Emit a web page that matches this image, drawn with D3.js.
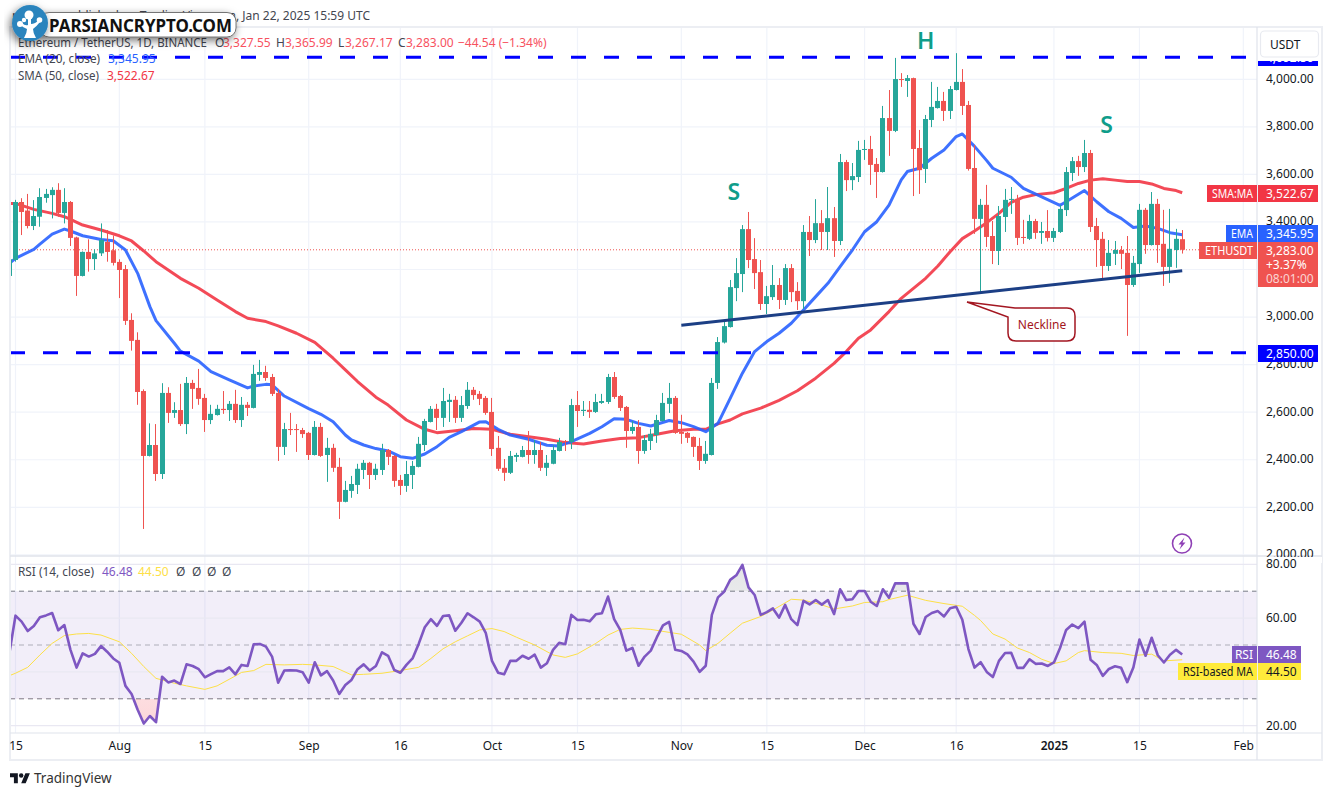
<!DOCTYPE html>
<html>
<head>
<meta charset="utf-8">
<script src="https://cdn.jsdelivr.net/npm/d3@7"></script>
<style>
  html, body { margin: 0; padding: 0; background: #fff; }
  svg { display: block; }
  text { font-family: "Noto Sans", sans-serif; font-size: 12px; fill: #131722; }
  .domain { display: none; }
</style>
</head>
<body>
<svg id="chart" width="1333" height="796"></svg>
<script>
// daily candles, first one is Jul 14 2024 (only a sliver of it shows)
const firstDay = "2024-07-14";
const opens = [3173,
  3240,3484,3448,3383,3422,3501,3513,3535,3438,3484,
  3335,3173,3274,3244,3268,3316,3281,3232,3202,2988,
  2904,2689,2416,2462,2340,2681,2597,2609,2550,2723,
  2702,2660,2567,2588,2614,2609,2635,2567,2631,2618,
  2757,2769,2748,2681,2454,2529,2529,2525,2513,2420,
  2538,2420,2450,2370,2223,2269,2294,2357,2387,2336,
  2357,2441,2416,2315,2290,2336,2370,2462,2559,2614,
  2576,2643,2652,2576,2626,2694,2677,2660,2601,2450,
  2366,2345,2412,2412,2441,2420,2441,2366,2383,2437,
  2479,2475,2630,2605,2610,2601,2639,2643,2748,2668,
  2622,2521,2538,2437,2479,2504,2563,2635,2660,2517,
  2513,2496,2458,2395,2420,2723,2893,2958,3122,3181,
  3370,3244,3189,3055,3084,3135,3072,3206,3110,3067,
  3358,3324,3395,3358,3416,3320,3652,3576,3589,3703,
  3707,3644,3610,3837,3783,4001,3993,4005,3711,3623,
  3829,3879,3909,3867,3955,3989,3892,3627,3413,3472,
  3341,3278,3421,3493,3497,3337,3329,3404,3354,3362,
  3333,3358,3450,3606,3656,3631,3690,3383,3329,3215,
  3266,3282,3270,3135,3223,3451,3303,3476,3308,3211,
  3282,3327.55];
const highs = [3243,
  3493,3500,3518,3492,3542,3539,3546,3563,3542,3488,
  3338,3276,3327,3285,3394,3366,3343,3243,3219,3016,
  2936,2696,2553,2550,2722,2705,2642,2719,2748,2736,
  2782,2677,2631,2631,2689,2647,2694,2664,2643,2799,
  2820,2795,2761,2698,2555,2597,2550,2534,2517,2563,
  2555,2492,2467,2408,2311,2332,2383,2399,2391,2383,
  2467,2445,2420,2336,2395,2395,2496,2572,2626,2635,
  2702,2677,2668,2668,2727,2706,2689,2668,2660,2500,
  2403,2437,2429,2458,2521,2483,2475,2420,2462,2492,
  2483,2656,2689,2647,2647,2677,2677,2761,2769,2672,
  2626,2563,2567,2504,2530,2589,2681,2723,2668,2589,
  2517,2498,2492,2479,2744,2916,2983,3156,3248,3387,
  3442,3332,3240,3131,3219,3164,3223,3223,3147,3387,
  3425,3496,3450,3547,3463,3686,3661,3648,3741,3745,
  3762,3669,3888,3955,4090,4026,4018,4007,3787,3850,
  3989,3968,3947,3972,4110,4043,3909,3724,3497,3556,
  3404,3467,3539,3547,3514,3409,3430,3413,3400,3450,
  3375,3472,3631,3673,3678,3745,3703,3417,3358,3324,
  3320,3299,3341,3257,3476,3459,3526,3497,3451,3455,
  3371,3365.99];
const lows = [3173,
  3233,3345,3373,3366,3380,3481,3415,3422,3394,3299,
  3089,3171,3191,3198,3257,3233,3217,3080,2967,2859,
  2631,2109,2414,2311,2319,2555,2576,2542,2508,2614,
  2631,2517,2550,2586,2593,2563,2555,2538,2584,2616,
  2732,2732,2668,2395,2420,2504,2433,2492,2399,2418,
  2412,2307,2349,2151,2221,2240,2256,2319,2277,2315,
  2336,2378,2286,2252,2265,2277,2368,2437,2557,2525,
  2538,2559,2555,2559,2614,2652,2630,2589,2416,2353,
  2311,2340,2391,2410,2383,2383,2353,2332,2381,2435,
  2437,2445,2538,2584,2576,2597,2635,2635,2656,2605,
  2450,2509,2383,2425,2441,2471,2561,2597,2509,2467,
  2471,2412,2357,2383,2418,2698,2889,2956,3067,3105,
  3206,3118,3030,3013,3072,3034,3051,3063,3030,3034,
  3257,3311,3282,3282,3253,3303,3530,3534,3568,3661,
  3556,3501,3608,3678,3778,3968,3926,3509,3518,3564,
  3799,3877,3825,3833,3953,3850,3616,3350,3102,3295,
  3223,3219,3358,3434,3303,3308,3324,3329,3308,3318,
  3316,3354,3425,3572,3594,3610,3358,3211,3160,3194,
  3219,3202,2921,3127,3186,3266,3301,3228,3131,3144,
  3207,3267.17];
const closes = [3243,
  3484,3442,3383,3425,3505,3518,3535,3438,3484,3333,
  3173,3274,3244,3268,3324,3274,3228,3198,2984,2900,
  2685,2416,2462,2340,2681,2597,2609,2550,2723,2698,
  2656,2567,2593,2614,2609,2635,2567,2631,2618,2761,
  2769,2744,2677,2454,2529,2525,2525,2508,2420,2538,
  2416,2450,2366,2223,2273,2298,2362,2387,2336,2362,
  2441,2412,2311,2290,2340,2374,2467,2563,2614,2576,
  2647,2652,2576,2630,2694,2672,2656,2597,2445,2362,
  2345,2416,2420,2441,2420,2441,2366,2387,2441,2475,
  2475,2630,2605,2610,2601,2643,2647,2748,2664,2618,
  2521,2538,2437,2483,2509,2567,2639,2660,2513,2509,
  2492,2454,2395,2425,2723,2895,2962,3126,3185,3370,
  3240,3185,3055,3088,3135,3072,3206,3105,3067,3358,
  3324,3395,3358,3416,3320,3652,3576,3593,3703,3707,
  3640,3610,3837,3783,4001,3997,4005,3707,3618,3833,
  3884,3909,3867,3959,3989,3888,3623,3413,3472,3337,
  3278,3425,3493,3497,3333,3333,3404,3354,3362,3333,
  3362,3455,3610,3656,3631,3690,3379,3324,3215,3270,
  3282,3266,3135,3228,3451,3303,3476,3303,3211,3287,
  3329,3283];

// moving averages read every few candles: index counts from Jul 15
const emaIndex = [-1,0,3,4,6,8,9,11,14,16,18,20,22,23,26,27,30,32,35,38,39,41,42,44,48,50,52,54,55,57,59,61,63,65,67,69,71,73,76,77,79,81,84,87,89,91,94,96,98,100,102,104,107,109,111,113,115,117,119,121,123,125,127,129,131,133,135,137,139,141,143,145,146,148,150,152,154,155,157,159,160,163,165,168,171,172,175,177,179,181,183,185,187,189,191];
const emaValues = [3226,3247,3285,3307,3349,3370,3362,3342,3326,3321,3282,3184,3044,2985,2890,2857,2815,2771,2736,2702,2710,2717,2715,2668,2615,2591,2560,2504,2483,2462,2447,2437,2413,2406,2424,2455,2494,2518,2559,2560,2528,2504,2486,2461,2458,2476,2511,2539,2572,2570,2553,2542,2565,2556,2539,2518,2553,2658,2764,2855,2897,2932,2974,3030,3086,3142,3212,3282,3359,3401,3471,3577,3612,3626,3668,3703,3759,3770,3718,3658,3626,3588,3541,3506,3470,3485,3532,3485,3443,3415,3377,3383,3373,3355,3346];
const smaIndex = [-1,0,3,6,8,9,11,14,17,19,21,23,27,30,33,36,38,41,43,46,49,52,54,56,59,61,64,67,69,72,75,78,81,84,87,90,93,96,99,102,105,108,111,113,115,117,119,122,125,128,131,134,136,138,140,143,145,147,149,151,153,155,157,159,161,163,165,167,170,172,174,176,178,180,182,184,186,188,190,191];
const smaValues = [3478,3478,3453,3436,3422,3411,3387,3366,3342,3320,3278,3233,3163,3121,3072,3023,2995,2981,2963,2932,2894,2827,2778,2729,2663,2630,2567,2528,2514,2522,2531,2528,2507,2497,2486,2472,2466,2479,2489,2493,2507,2522,2528,2528,2551,2567,2593,2617,2650,2690,2743,2805,2855,2911,2946,3023,3079,3121,3163,3215,3275,3330,3362,3397,3436,3482,3504,3515,3523,3541,3562,3576,3582,3576,3570,3570,3560,3541,3532,3523];
const neckIndex = [109, 191];
const neckValues = [2966, 3195];
const levelValues = [4092.5, 2850];
const patternLetters = ["H", "S", "S"];
const patternIndex = [149, 117.6, 178.6];
const patternValues = [4165, 3530, 3812];

// RSI for every candle, same order as the candles
const rsiValues = [47.0,
  60.9,58.7,55.2,57.1,60.3,61.0,61.9,55.5,57.4,48.2,
  41.6,46.9,45.7,46.7,49.6,47.5,45.0,43.4,34.8,31.8,
  25.9,20.8,23.6,21.3,38.2,36.1,36.8,35.5,42.8,42.2,
  41.0,38.0,39.2,40.3,40.3,41.7,39.1,42.6,42.2,50.3,
  50.4,49.4,45.7,36.0,40.5,40.6,40.5,39.9,36.0,43.6,
  38.7,40.3,36.8,31.8,35.1,37.0,41.0,42.8,40.5,42.2,
  47.3,46.0,40.7,39.7,42.6,45.0,50.4,56.6,59.6,57.1,
  60.8,61.0,55.3,58.3,61.8,60.3,58.7,54.4,44.1,39.7,
  39.1,44.1,44.1,46.0,44.9,46.4,41.6,43.2,48.2,50.8,
  50.3,61.2,59.3,59.4,58.8,61.4,61.8,68.0,59.6,55.6,
  47.9,48.9,42.3,45.7,47.9,52.9,57.3,58.6,48.2,47.8,
  46.5,43.8,40.0,42.3,61.2,67.7,69.8,74.2,75.9,79.8,
  71.4,68.6,61.2,62.2,63.6,60.2,64.9,59.6,57.4,66.4,
  65.1,66.7,65.0,66.7,61.5,70.7,66.7,67.0,70.1,70.1,
  66.1,64.5,70.7,67.6,72.9,72.9,72.9,57.9,54.1,60.4,
  61.9,62.6,60.6,63.7,64.2,59.4,48.5,41.6,43.6,40.0,
  38.1,44.1,47.0,47.1,41.5,41.5,44.7,43.0,43.1,42.2,
  43.5,48.9,55.6,57.6,56.3,58.7,44.5,42.6,38.5,41.1,
  42.1,41.5,36.2,41.6,52.0,46.0,52.7,46.2,43.5,46.4,
  48.2,46.48];
const rsiMaIndex = [-1,0,2,4,6,8,10,12,14,17,19,21,23,26,28,31,33,36,37,39,41,44,47,49,52,55,57,60,63,66,68,70,72,74,76,78,80,82,85,88,90,92,95,97,99,101,104,107,109,112,113,115,117,119,122,124,127,129,132,134,137,139,142,143,146,149,152,155,157,158,160,162,164,166,168,170,172,174,175,178,181,183,186,188,191];
const rsiMaValues = [38.6,39.5,41.7,46.3,50.6,53.5,54.1,54.3,53.7,51.2,46.9,42.0,37.6,35.8,34.8,33.5,34.8,38.5,39.8,40.5,42.8,42.6,42.8,42.6,42.0,38.9,39.1,39.5,40.5,41.7,45.0,48.6,51.2,53.4,55.6,56.1,55.0,52.9,50.0,46.3,45.4,46.7,50.6,53.7,55.8,56.3,55.8,54.7,54.0,50.0,47.9,50.6,54.4,58.1,60.6,63.0,67.0,66.7,64.9,63.4,64.5,65.8,66.1,66.9,68.5,66.6,65.4,64.4,61.0,59.1,54.1,52.2,48.9,47.2,44.7,43.1,44.1,47.2,47.9,47.2,46.9,46.1,46.6,44.1,44.5];

const priceTicks = [4000,3800,3600,3400,3200,3000,2800,2600,2400,2200,2000];
const rsiTicks = [80,60,40,20];
const rsiLevels = [70,50,30];
const tickDates = ["2024-07-15","2024-08-01","2024-08-15","2024-09-01","2024-09-16","2024-10-01","2024-10-15","2024-11-01","2024-11-15","2024-12-01","2024-12-16","2025-01-01","2025-01-15","2025-02-01"];
const tickLabels = ["15","Aug","15","Sep","16","Oct","15","Nov","15","Dec","16","2025","15","Feb"];

const upColor = "#26a69a", downColor = "#ef5350";
const gridColor = "#f0f3fa", borderColor = "#e0e3eb";
const blue = "#2962ff", red = "#f23645", purple = "#7e57c2", levelBlue = "#0000ff";
const paneLeft = 10, paneRight = 1257, priceTop = 27, priceBottom = 556, rsiBottom = 733;

const day0 = new Date(firstDay + "T00:00:00Z");
// i counts from Jul 15, may be fractional for the letters
const dateAt = i => new Date(+day0 + (i + 1) * 864e5);

let x = d3.scaleUtc()
    .domain([new Date("2024-07-15T00:00:00Z"), new Date("2025-02-01T00:00:00Z")])
    .range([15.5, 1243.3]);
let y = d3.scaleLinear().domain([4000, 2200]).range([79.3, 507.3]);
let yRsi = d3.scaleLinear().domain([80, 20]).range([564.3, 725.7]);

let svg = d3.select("#chart");
let defs = svg.append("defs");
defs.append("clipPath").attr("id", "clip-price").append("rect")
    .attr("x", paneLeft).attr("y", priceTop).attr("width", paneRight - paneLeft).attr("height", priceBottom - priceTop);
defs.append("clipPath").attr("id", "clip-rsi").append("rect")
    .attr("x", paneLeft).attr("y", priceBottom).attr("width", paneRight - paneLeft).attr("height", rsiBottom - priceBottom);
defs.append("clipPath").attr("id", "clip-below30").append("rect")
    .attr("x", paneLeft).attr("y", yRsi(30)).attr("width", paneRight - paneLeft).attr("height", rsiBottom - yRsi(30));
defs.append("clipPath").attr("id", "clip-above70").append("rect")
    .attr("x", paneLeft).attr("y", priceBottom).attr("width", paneRight - paneLeft).attr("height", yRsi(70) - priceBottom);
let shadow = defs.append("filter").attr("id", "logo-shadow")
    .attr("x", "-20%").attr("y", "-50%").attr("width", "140%").attr("height", "220%");
shadow.append("feDropShadow").attr("dx", -2).attr("dy", 3).attr("stdDeviation", 4)
    .attr("flood-color", "#000").attr("flood-opacity", 0.55);
let oversold = defs.append("linearGradient").attr("id", "grad-oversold").attr("x1", 0).attr("y1", 0).attr("x2", 0).attr("y2", 1);
oversold.append("stop").attr("offset", "0%").attr("stop-color", "#f23645").attr("stop-opacity", 0);
oversold.append("stop").attr("offset", "100%").attr("stop-color", "#f23645").attr("stop-opacity", 0.2);
let overbought = defs.append("linearGradient").attr("id", "grad-overbought").attr("x1", 0).attr("y1", 1).attr("x2", 0).attr("y2", 0);
overbought.append("stop").attr("offset", "0%").attr("stop-color", "#787b86").attr("stop-opacity", 0);
overbought.append("stop").attr("offset", "100%").attr("stop-color", "#787b86").attr("stop-opacity", 0.2);

// GRID
let tickDateObjs = tickDates.map(d => new Date(d + "T00:00:00Z"));
svg.append("g").selectAll("line").data(tickDateObjs).join("line")
    .attr("x1", d => x(d)).attr("x2", d => x(d))
    .attr("y1", priceTop).attr("y2", rsiBottom)
    .attr("stroke", gridColor).attr("stroke-width", 1.2);
svg.append("g").selectAll("line").data(priceTicks).join("line")
    .attr("x1", paneLeft).attr("x2", paneRight)
    .attr("y1", d => y(d)).attr("y2", d => y(d))
    .attr("stroke", gridColor).attr("stroke-width", 1.2);

// RSI band goes under the rsi grid
svg.append("rect")
    .attr("x", paneLeft).attr("width", paneRight - paneLeft)
    .attr("y", yRsi(70)).attr("height", yRsi(30) - yRsi(70))
    .attr("fill", purple).attr("fill-opacity", 0.1);
svg.append("g").selectAll("line").data(rsiTicks).join("line")
    .attr("x1", paneLeft).attr("x2", paneRight)
    .attr("y1", d => yRsi(d)).attr("y2", d => yRsi(d))
    .attr("stroke", "#e9e8f2").attr("stroke-width", 1.2);
svg.append("g").selectAll("line").data(rsiLevels).join("line")
    .attr("x1", paneLeft).attr("x2", paneRight)
    .attr("y1", d => yRsi(d)).attr("y2", d => yRsi(d))
    .attr("stroke", "#787b86")
    .attr("stroke-opacity", d => d == 50 ? 0.55 : 1)
    .attr("stroke-width", 1)
    .attr("stroke-dasharray", "5,4");

// PRICE PANE
let pricePane = svg.append("g").attr("clip-path", "url(#clip-price)");

// last price dotted line
pricePane.append("line")
    .attr("x1", paneLeft).attr("x2", paneRight)
    .attr("y1", y(closes[closes.length - 1])).attr("y2", y(closes[closes.length - 1]))
    .attr("stroke", downColor).attr("stroke-width", 1).attr("stroke-dasharray", "1,2");

// moving averages
let maLine = d3.line().x(d => x(dateAt(d[0]))).y(d => y(d[1]));
pricePane.append("path")
    .datum(d3.zip(smaIndex, smaValues))
    .attr("fill", "none").attr("stroke", red).attr("stroke-width", 3).attr("stroke-opacity", 0.9)
    .attr("stroke-linejoin", "round")
    .attr("d", maLine);
pricePane.append("path")
    .datum(d3.zip(emaIndex, emaValues))
    .attr("fill", "none").attr("stroke", blue).attr("stroke-width", 3).attr("stroke-opacity", 0.9)
    .attr("stroke-linejoin", "round")
    .attr("d", maLine);

// candles
const candleIdx = d3.range(opens.length);
const candleX = i => Math.round(x(dateAt(i - 1)) - 0.5);
const candleColor = i => closes[i] >= opens[i] ? upColor : downColor;
pricePane.append("g").selectAll("rect").data(candleIdx).join("rect")
    .attr("x", i => candleX(i))
    .attr("width", 1)
    .attr("y", i => y(highs[i]))
    .attr("height", i => y(lows[i]) - y(highs[i]))
    .attr("fill", candleColor);
pricePane.append("g").selectAll("rect").data(candleIdx).join("rect")
    .attr("x", i => candleX(i) - 2)
    .attr("width", 5)
    .attr("y", i => y(Math.max(opens[i], closes[i])))
    .attr("height", i => Math.max(1, Math.abs(y(opens[i]) - y(closes[i]))))
    .attr("fill", candleColor);

// dashed levels
pricePane.append("g").selectAll("line").data(levelValues).join("line")
    .attr("x1", paneLeft).attr("x2", 1246)
    .attr("y1", d => y(d)).attr("y2", d => y(d))
    .attr("stroke", levelBlue).attr("stroke-width", 3).attr("stroke-dasharray", "15,18");

// neckline
pricePane.append("path")
    .datum(d3.zip(neckIndex, neckValues))
    .attr("fill", "none").attr("stroke", "#1c3f85").attr("stroke-width", 3)
    .attr("d", maLine);

// pattern letters
svg.append("g").selectAll("text").data(patternLetters).join("text")
    .attr("x", (d, i) => x(dateAt(patternIndex[i])))
    .attr("y", (d, i) => y(patternValues[i]))
    .attr("text-anchor", "middle")
    .attr("dominant-baseline", "central")
    .style("font-size", "23px").style("font-weight", 600)
    .style("fill", "#0f9d8a")
    .text(d => d);

// neckline callout
svg.append("path")
    .attr("d", "M1015,308 L967,302 L1008,317 L1008,333 Q1008,341 1016,341 L1067,341 Q1075,341 1075,333 L1075,316 Q1075,308 1067,308 Z")
    .attr("fill", "#fff").attr("stroke", "#a31621").attr("stroke-width", 1.5);
svg.append("text").attr("x", 1042).attr("y", 324)
    .attr("text-anchor", "middle").attr("dominant-baseline", "central")
    .style("fill", "#a31621").style("font-size", "12px").text("Neckline");

// lightning icon
let bolt = svg.append("g").attr("transform", "translate(1182,543.5)");
bolt.append("circle").attr("r", 9.5).attr("fill", "#fff").attr("stroke", "#8e3fb5").attr("stroke-width", 1.6);
bolt.append("path").attr("d", "M2.5,-6 L-3.5,1 L-0.5,1 L-2.5,6 L3.5,-1 L0.5,-1 Z").attr("fill", "#8e3fb5");

// RSI PANE
let rsiPane = svg.append("g").attr("clip-path", "url(#clip-rsi)");
let rsiPoints = rsiValues.map((v, i) => [i - 1, v]);
rsiPane.append("path").datum(rsiPoints)
    .attr("clip-path", "url(#clip-below30)")
    .attr("fill", "url(#grad-oversold)")
    .attr("d", d3.area().x(d => x(dateAt(d[0]))).y0(yRsi(30)).y1(d => yRsi(d[1])));
rsiPane.append("path").datum(rsiPoints)
    .attr("clip-path", "url(#clip-above70)")
    .attr("fill", "url(#grad-overbought)")
    .attr("d", d3.area().x(d => x(dateAt(d[0]))).y0(yRsi(70)).y1(d => yRsi(d[1])));
let rsiLine = d3.line().x(d => x(dateAt(d[0]))).y(d => yRsi(d[1]));
rsiPane.append("path").datum(d3.zip(rsiMaIndex, rsiMaValues))
    .attr("fill", "none").attr("stroke", "#fde047").attr("stroke-width", 1).attr("d", rsiLine);
rsiPane.append("path").datum(rsiPoints)
    .attr("fill", "none").attr("stroke", purple).attr("stroke-width", 2.6)
    .attr("stroke-linejoin", "round").attr("d", rsiLine);

// FRAME
svg.append("rect").attr("x", 10).attr("y", 27).attr("width", 1312).attr("height", 733)
    .attr("fill", "none").attr("stroke", "#eceef3").attr("stroke-width", 2);
svg.append("line").attr("x1", paneRight).attr("x2", paneRight).attr("y1", 27).attr("y2", 760)
    .attr("stroke", borderColor).attr("stroke-width", 1.2);
svg.append("line").attr("x1", 10).attr("x2", 1322).attr("y1", priceBottom).attr("y2", priceBottom)
    .attr("stroke", borderColor).attr("stroke-width", 1.5);
svg.append("line").attr("x1", 10).attr("x2", 1322).attr("y1", rsiBottom).attr("y2", rsiBottom)
    .attr("stroke", borderColor).attr("stroke-width", 1.2);

// AXES
let priceAxis = svg.append("g")
    .attr("transform", `translate(${paneRight + 9}, -1)`)
    .call(d3.axisRight(y).tickValues(priceTicks.filter(d => d != 3200))
        .tickFormat(d3.format(",.2f")).tickSize(0).tickPadding(0));
priceAxis.selectAll("text").style("font-size", "12px").style("fill", "#131722");
// 2,000.00 is cut by the pane border
svg.append("rect").attr("x", paneRight + 1).attr("y", priceBottom + 1).attr("width", 64).attr("height", 6).attr("fill", "#fff");

let rsiAxis = svg.append("g")
    .attr("transform", `translate(${paneRight + 9}, -0.5)`)
    .call(d3.axisRight(yRsi).tickValues([80, 60, 20])
        .tickFormat(d3.format(".2f")).tickSize(0).tickPadding(0));

let timeAxis = svg.append("g")
    .attr("transform", `translate(0, ${rsiBottom + 8})`)
    .call(d3.axisBottom(x).tickValues(tickDateObjs)
        .tickFormat((d, i) => tickLabels[i]).tickSize(0).tickPadding(0));
timeAxis.selectAll("text")
    .style("font-size", "12px")
    .style("font-weight", (d, i) => tickLabels[i] == "2025" ? 600 : 400);

// AXIS LABELS
function axisLabel(x0, y0, w, h, color, txt, txtColor, txtX, anchor, len) {
    svg.append("rect").attr("x", x0).attr("y", y0).attr("width", w).attr("height", h).attr("fill", color);
    let t = svg.append("text").attr("x", txtX).attr("y", y0 + h / 2)
        .attr("text-anchor", anchor).attr("dominant-baseline", "central")
        .style("fill", txtColor).text(txt);
    if (len) t.attr("textLength", len).attr("lengthAdjust", "spacingAndGlyphs");
}
const money = d3.format(",.2f");
// blue level label: covered by the currency button, only its bottom shows
axisLabel(1258, 48, 60, 18, levelBlue, money(levelValues[0]), "#fff", 1266, "start");
svg.append("rect").attr("x", 1258).attr("y", 28).attr("width", 63).attr("height", 33).attr("fill", "#fff");
svg.append("rect").attr("x", 1260.5).attr("y", 31).attr("width", 58).attr("height", 26).attr("rx", 4)
    .attr("fill", "#fff").attr("stroke", "#e8eaf0").attr("stroke-width", 1.2);
svg.append("text").attr("x", 1270).attr("y", 44).attr("dominant-baseline", "central").text("USDT");
axisLabel(1207, 185, 50, 17, red, "SMA:MA", "#fff", 1253, "end", 41);
axisLabel(1258, 185, 60, 17, red, "3,522.67", "#fff", 1266, "start");
axisLabel(1226, 225, 31, 17, blue, "EMA", "#fff", 1253, "end", 22);
axisLabel(1258, 225, 60, 17, blue, "3,345.95", "#fff", 1266, "start");
axisLabel(1199, 242, 58, 17, downColor, "ETHUSDT", "#fff", 1253, "end", 48);
svg.append("rect").attr("x", 1258).attr("y", 242).attr("width", 60).attr("height", 45).attr("fill", downColor);
const lastLines = ["3,283.00", "+3.37%", "08:01:00"];
svg.append("g").selectAll("text").data(lastLines).join("text")
    .attr("x", 1266).attr("y", (d, i) => 250 + i * 14)
    .attr("dominant-baseline", "central")
    .style("fill", (d, i) => i == 2 ? "#fbd5d4" : "#fff")
    .text(d => d);
axisLabel(1258, 345, 60, 17, levelBlue, money(levelValues[1]), "#fff", 1266, "start");
axisLabel(1232, 646, 25, 17, purple, "RSI", "#fff", 1253, "end");
axisLabel(1258, 646, 43, 17, purple, "46.48", "#fff", 1266, "start");
axisLabel(1178, 663, 79, 17, "#ffeb3b", "RSI-based MA", "#131722", 1253, "end", 70);
axisLabel(1258, 663, 43, 17, "#ffeb3b", "44.50", "#131722", 1266, "start");

// LEGEND
const legendRed = "#f7525f";
function legendText(xx, yy, txt, color, len) {
    let t = svg.append("text").attr("x", xx).attr("y", yy)
        .attr("dominant-baseline", "central")
        .style("fill", color).text(txt);
    if (len) t.attr("textLength", len).attr("lengthAdjust", "spacingAndGlyphs");
}
legendText(12, 15, "m", "#434651");
svg.append("text").attr("x", 370).attr("y", 15).attr("text-anchor", "end")
    .attr("dominant-baseline", "central").style("fill", "#434651")
    .text("published on TradingView.com, Jan 22, 2025 15:59 UTC");
legendText(18, 42, "Ethereum / TetherUS, 1D, BINANCE", "#434651", 189);
legendText(215, 42, "O", "#434651");
legendText(223, 42, "3,327.55", legendRed);
legendText(276, 42, "H", "#434651");
legendText(285, 42, "3,365.99", legendRed);
legendText(338, 42, "L", "#434651");
legendText(345, 42, "3,267.17", legendRed);
legendText(398, 42, "C", "#434651");
legendText(406, 42, "3,283.00", legendRed);
legendText(458, 42, "\u221244.54 (\u22121.34%)", legendRed);
legendText(18, 58.5, "EMA (20, close)", "#434651", 82);
legendText(108, 58.5, "3,345.95", blue);
legendText(18, 75.5, "SMA (50, close)", "#434651", 81);
legendText(107, 75.5, "3,522.67", red);
legendText(18, 571.5, "RSI (14, close)", "#434651", 76);
legendText(102, 571.5, "46.48", purple);
legendText(138, 571.5, "44.50", "#fde047");
[176, 192, 207, 222].forEach(px => legendText(px, 571.5, "\u00d8", "#434651"));

// WATERMARK
let logo = svg.append("g");
logo.append("rect").attr("x", 40).attr("y", 12.5).attr("width", 196).attr("height", 24.5).attr("rx", 9)
    .attr("fill", "#fff").attr("stroke", "#555").attr("stroke-width", 0.8).attr("filter", "url(#logo-shadow)");
logo.append("circle").attr("cx", 30).attr("cy", 23).attr("r", 18).attr("fill", "#2b84bd").attr("filter", "url(#logo-shadow)");
logo.append("path").attr("d", "M24,38 Q27,33 27,29 Q23,28 20,24 L22,23 Q25,26 28,25 L28,15 L31,15 L31,24 Q35,24 39,20 L40,22 Q36,27 33,29 Q33,33 36,38 Z").attr("fill", "#fff");
const leafX = [29, 20, 39.5, 24], leafY = [15, 24, 20, 20], leafR = [4.5, 3, 2.8, 2.2];
logo.selectAll("circle.leaf").data(leafX).join("circle").attr("class", "leaf")
    .attr("cx", d => d).attr("cy", (d, i) => leafY[i]).attr("r", (d, i) => leafR[i]).attr("fill", "#fff");
logo.append("text").attr("x", 49).attr("y", 25).attr("dominant-baseline", "central")
    .attr("textLength", 183).attr("lengthAdjust", "spacingAndGlyphs")
    .style("font-size", "18px").style("font-weight", 700).style("fill", "#111")
    .text("PARSIANCRYPTO.COM");

// TRADINGVIEW MARK
svg.append("path")
    .attr("transform", "translate(10,771) scale(0.56)")
    .attr("d", "M14 22H7V11H0V4h14v18zM28 22h-8l7.5-18h8L28 22z")
    .attr("fill", "#131722");
svg.append("circle").attr("cx", 10 + 20 * 0.56).attr("cy", 771 + 8 * 0.56).attr("r", 4 * 0.56).attr("fill", "#131722");
svg.append("text").attr("x", 34).attr("y", 778).attr("dominant-baseline", "central")
    .style("font-size", "13.5px").style("fill", "#333").text("TradingView");
</script>
</body>
</html>
